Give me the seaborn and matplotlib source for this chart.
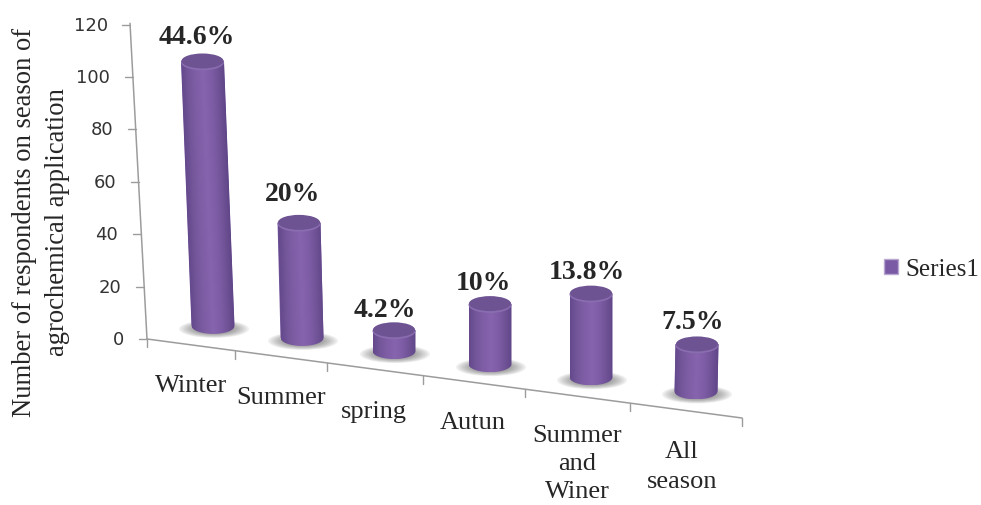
import numpy as np
import matplotlib
matplotlib.use("Agg")
import matplotlib.pyplot as plt
import seaborn as sns
from matplotlib.colors import LinearSegmentedColormap
from matplotlib.patches import Ellipse, Patch
from matplotlib.path import Path
from matplotlib.transforms import Affine2D

# ---- data ----
categories = ["Winter", "Summer", "spring", "Autun", "Summer\nand\nWiner", "All\nseason"]
bar_heights = [101, 44, 8, 23, 32, 18]
percent_labels = ["44.6%", "20%", "4.2%", "10%", "13.8%", "7.5%"]
y_ticks = [0, 20, 40, 60, 80, 100, 120]
series_name = "Series1"
y_title = "Number of respondents on season of\nagrochemical application"

# ---- layout: the x axis is in reference pixels, the floor slopes away ----
PX = 2.62                                    # pixels per y unit
bar_centres = [213, 302, 394, 490, 591, 696]
floor_levels = [5.0, 0.4, -4.6, -9.6, -14.6, -20.0]
bar_lean = [-10.5, -3, 0, 0, 0, 1]           # top-centre minus bottom-centre, px
label_dx = [-5.5, -6, -9, -7, -4, -4]        # px from the cap centre
label_dy = [-25, -29, -21, -21, -22, -23]    # px from the cap centre
axis_ticks_x = [147, 235, 327, 423, 525, 630, 742]
cat_label_x = [191, 281, 374, 473, 577, 682]
cat_label_y = [386, 398, 412, 423, 464, 467]
cat_linespacing = [1.2, 1.2, 1.2, 1.2, 1.33, 1.42]
ytick_right = [124, 121, 118, 116, 113, 110, 108]
FW, FH = 981, 506
L, R, BASE = 147, 742, 340

sns.set_style("white")
plt.rcParams["font.family"] = ["Liberation Serif", "DejaVu Serif"]

fig = plt.figure(figsize=(FW / 100, FH / 100), dpi=100)
ax = fig.add_axes([L / FW, (FH - BASE) / FH, (R - L) / FW, 120 * PX / FH])
ax.patch.set_alpha(0)

BODY = "#7d5ca3"
sns.barplot(x=bar_centres, y=bar_heights, native_scale=True, width=0.483,
            color=BODY, saturation=1, ax=ax, linewidth=0, zorder=3)

def fy(py):
    """reference pixel row -> y data value"""
    return (BASE - py) / PX

cyl = LinearSegmentedColormap.from_list(
    "cyl", ["#64498c", "#74569b", "#7f5ea6", "#8664ae", "#7f5ea7", "#715398", "#5f4687"])
grad = np.linspace(0, 1, 256)[None, :]

ELL_H = 16
for i, p in enumerate(ax.patches[:len(bar_heights)]):
    w = p.get_width()
    cx = p.get_x() + w / 2
    h = p.get_height()
    b = floor_levels[i]
    p.set_y(b)
    p.set_clip_on(False)
    k = bar_lean[i] / h
    skew = Affine2D.from_values(1, 0, k, 1, -k * b, 0)
    tr = skew + ax.transData
    p.set_transform(tr)
    ry = ELL_H / 2 / PX
    top = b + h

    # soft shadow on the floor
    for s in np.linspace(1.0, 0.55, 8):
        ax.add_patch(Ellipse((cx + 1, b - 3 / PX), 70 * s, 18 * s / PX, fc="#555555",
                             ec="none", alpha=0.09, zorder=1, clip_on=False))

    # shaded body
    t = np.linspace(np.pi, 2 * np.pi, 40)
    xs = np.r_[cx - w / 2, cx + w / 2 * np.cos(t), cx + w / 2]
    ys = np.r_[top, b + ry * np.sin(t), top]
    clip = Path(np.c_[xs, ys])
    im = ax.imshow(grad, cmap=cyl, aspect="auto", zorder=3.5,
                   extent=(cx - w / 2, cx + w / 2, b - ry, top), interpolation="bilinear")
    im.set_transform(tr)
    im.set_clip_box(fig.bbox)
    im.set_clip_path(clip, tr)

    # cap
    ax.add_patch(Ellipse((cx + bar_lean[i], top - 1.0 / PX), w, 2 * ry, fc="#8a6db0",
                         ec="none", zorder=4, clip_on=False))
    ax.add_patch(Ellipse((cx + bar_lean[i], top + 0.3 / PX), w - 1, 2 * ry - 1 / PX, fc="#6e5393",
                         ec="none", zorder=4.2, clip_on=False))

    # percentage above the bar
    ax.annotate(percent_labels[i], xy=(cx + bar_lean[i], top), xycoords="data",
                xytext=(label_dx[i] * 0.72, -label_dy[i] * 0.72),
                textcoords="offset points", ha="center", va="center",
                fontsize=20, fontweight="bold", zorder=6, annotation_clip=False)

ax.set_xlim(L, R)
ax.set_ylim(0, 120)
for s in ax.spines.values():
    s.set_visible(False)

# axis lines
LINE = "#9c9c9c"
ax.plot([130, L], [120.5, 0], color=LINE, lw=1.1, clip_on=False, zorder=2)
ax.plot([L, R], [0, fy(419)], color=LINE, lw=1.1, clip_on=False, zorder=2)
for v in y_ticks:
    xa = L - 17 * v / 120
    ax.plot([xa - 8, xa], [v, v], color=LINE, lw=1, clip_on=False, zorder=2)
for xt in axis_ticks_x:
    y0 = fy(BASE + (xt - L) * 79 / 595)
    ax.plot([xt, xt], [y0, y0 - 8 / PX], color=LINE, lw=1, clip_on=False, zorder=2)

# tick labels
ax.set_yticks(y_ticks)
ax.set_xticks(cat_label_x)
ax.set_xticklabels(categories, fontsize=19, ha="center", va="center")
ax.tick_params(axis="both", length=0, pad=0)
for lab, yp, ls in zip(ax.get_xticklabels(), cat_label_y, cat_linespacing):
    lab.set_y(-(yp - BASE) / (120 * PX))
    lab.set_linespacing(ls)
for lab, xr in zip(ax.get_yticklabels(), ytick_right):
    lab.set_x((xr - L) / (R - L))
    lab.set_fontfamily("DejaVu Sans")
    lab.set_fontsize(13)
    lab.set_color("#333333")
    lab.set_ha("right")
    lab.set_va("center")

ax.set_ylabel(y_title, fontsize=19.2, linespacing=1.38, ha="center", va="center")
ax.yaxis.set_label_coords((41 - L) / (R - L), (BASE - 222) / (120 * PX))

leg = ax.legend(handles=[Patch(fc="#7a5aa5", ec="#b9a8d0", label=series_name)],
                loc="center left", bbox_to_anchor=((884 - L) / (R - L), (BASE - 270) / (120 * PX)),
                frameon=False, fontsize=18, handlelength=0.55, handleheight=0.55,
                handletextpad=0.3, borderpad=0, borderaxespad=0)

fig.savefig("out.png", dpi=100)
